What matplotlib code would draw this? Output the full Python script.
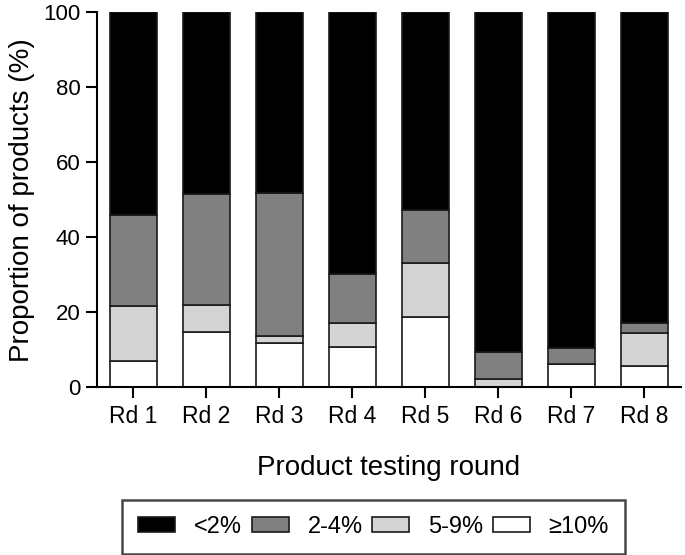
import matplotlib
matplotlib.use("Agg")
import matplotlib.pyplot as plt
import numpy as np

rounds = ["Rd 1", "Rd 2", "Rd 3", "Rd 4", "Rd 5", "Rd 6", "Rd 7", "Rd 8"]
# segment heights (%) per round, bottom to top
pct_10plus = [7.0, 14.7, 11.7, 10.7, 18.7, 0.0, 6.3, 5.6]
pct_5_9 = [14.7, 7.3, 2.1, 6.4, 14.4, 2.2, 0.0, 8.9]
pct_2_4 = [24.3, 29.5, 38.1, 13.0, 14.2, 7.1, 4.1, 2.6]
pct_lt2 = [100 - a - b - c for a, b, c in zip(pct_10plus, pct_5_9, pct_2_4)]

labels = ["<2%", "2-4%", "5-9%", "\u226510%"]
colors = ["#000000", "#808080", "#d4d4d4", "#ffffff"]

plt.rcParams["font.family"] = ["Liberation Sans", "DejaVu Sans"]

fig = plt.figure(figsize=(6.85, 5.55), dpi=100)
ax = fig.add_axes([0.1416, 0.302, 0.852, 0.676])

x = np.arange(len(rounds))
w = 0.645
stack = [pct_10plus, pct_5_9, pct_2_4, pct_lt2]
order = [3, 2, 1, 0]  # stack colours: white, light, gray, black
bottom = np.zeros(len(rounds))
handles = {}
for vals, ci in zip(stack, order):
    b = ax.bar(x, vals, w, bottom=bottom, color=colors[ci], edgecolor="#1a1a1a",
               linewidth=1.2, label=labels[ci])
    handles[ci] = b
    bottom += np.array(vals)

ax.set_xlim(-0.5, 7.5)
ax.set_ylim(0, 100)
ax.set_yticks([0, 20, 40, 60, 80, 100])
ax.set_xticks(x)
ax.set_xticklabels(rounds)
for s in ["top", "right"]:
    ax.spines[s].set_visible(False)
for s in ["left", "bottom"]:
    ax.spines[s].set_linewidth(1.5)
ax.tick_params(axis="both", direction="out", length=8, width=1.5)
ax.tick_params(axis="y", pad=4, labelsize=16)
ax.tick_params(axis="x", pad=5, labelsize=16.5)
ax.set_ylabel("Proportion of products (%)", fontsize=20, labelpad=6)
ax.set_xlabel("Product testing round", fontsize=20, labelpad=19)

leg = fig.legend([handles[i] for i in range(4)], labels, ncol=4,
                 loc="lower left", bbox_to_anchor=(0.1785, 0.002),
                 fontsize=17, frameon=True, fancybox=False, edgecolor="#1a1a1a",
                 handlelength=1.57, handleheight=0.55, columnspacing=0.4,
                 handletextpad=0.8, borderpad=0.68, borderaxespad=0)
leg.get_frame().set_linewidth(1.8)

fig.savefig("out.png", dpi=100)
